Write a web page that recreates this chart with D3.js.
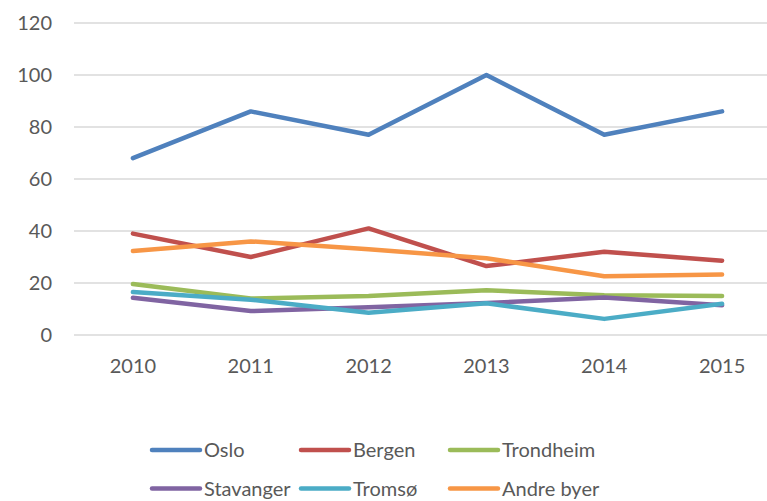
<!DOCTYPE html>
<html>
<head>
<meta charset="utf-8">
<script src="https://cdn.jsdelivr.net/npm/d3@7"></script>
<style>
  body { margin: 0; background: #fff; }
  text { font-family: Lato, "Open Sans", sans-serif; fill: #595959; }
</style>
</head>
<body>
<svg id="chart" width="767" height="501"></svg>
<script>
// data
years = ["2010", "2011", "2012", "2013", "2014", "2015"];
seriesNames = ["Oslo", "Bergen", "Trondheim", "Stavanger", "Tromsø", "Andre byer"];
oslo = [68, 86, 77, 100, 77, 86];
bergen = [39, 30, 41, 26.5, 32, 28.6];
trondheim = [19.6, 14, 15, 17.2, 15.3, 15];
stavanger = [14.3, 9.2, 10.7, 12.3, 14.4, 11.4];
tromso = [16.5, 13.6, 8.6, 12.2, 6.2, 12];
andreByer = [32.3, 36, 33, 29.5, 22.6, 23.3];
yTicks = [0, 20, 40, 60, 80, 100, 120];

colors = ["#4f81bd", "#c0504d", "#9bbb59", "#8064a2", "#4bacc6", "#f79646"];

margin = {top: 23, left: 74, bottom: 335};

let seriesValues = [oslo, bergen, trondheim, stavanger, tromso, andreByer];
let series = seriesNames.map((name, i) => ({name: name, values: seriesValues[i], color: colors[i]}));

let svg = d3.select("#chart");

let x = d3.scaleBand()
  .domain(years)
  .range([margin.left, 781]);

let y = d3.scaleLinear()
  .domain([0, 120])
  .range([margin.bottom, margin.top]);

// gridlines
svg.append("g")
  .selectAll("line")
  .data(yTicks)
  .enter().append("line")
  .attr("x1", margin.left)
  .attr("x2", 781)
  .attr("y1", d => y(d))
  .attr("y2", d => y(d))
  .attr("stroke", "#d9d9d9")
  .attr("stroke-width", 1.5);

// y labels
svg.append("g")
  .selectAll("text")
  .data(yTicks)
  .enter().append("text")
  .attr("x", 52)
  .attr("y", d => y(d))
  .attr("dy", "0.36em")
  .attr("text-anchor", "end")
  .style("font-size", "20px")
  .text(d => d);

// x labels
svg.append("g")
  .selectAll("text")
  .data(years)
  .enter().append("text")
  .attr("x", d => x(d) + x.bandwidth() / 2)
  .attr("y", 373)
  .attr("text-anchor", "middle")
  .style("font-size", "20px")
  .text(d => d);

let line = d3.line()
  .x((d, i) => x(years[i]) + x.bandwidth() / 2)
  .y(d => y(d));

svg.append("g")
  .selectAll("path")
  .data(series)
  .enter().append("path")
  .attr("d", d => line(d.values))
  .attr("fill", "none")
  .attr("stroke", d => d.color)
  .attr("stroke-width", 4.5)
  .attr("stroke-linecap", "round")
  .attr("stroke-linejoin", "round");

// legend, 3 columns x 2 rows
let legend = svg.append("g")
  .selectAll("g")
  .data(series)
  .enter().append("g")
  .attr("transform", (d, i) => "translate(" + (152 + (i % 3) * 149) + "," + (450 + Math.floor(i / 3) * 38.5) + ")");

legend.append("line")
  .attr("x1", 0)
  .attr("x2", 48)
  .attr("stroke", d => d.color)
  .attr("stroke-width", 4.5)
  .attr("stroke-linecap", "round");

legend.append("text")
  .attr("x", 52)
  .attr("dy", "0.36em")
  .style("font-size", "20px")
  .text(d => d.name);
</script>
</body>
</html>
